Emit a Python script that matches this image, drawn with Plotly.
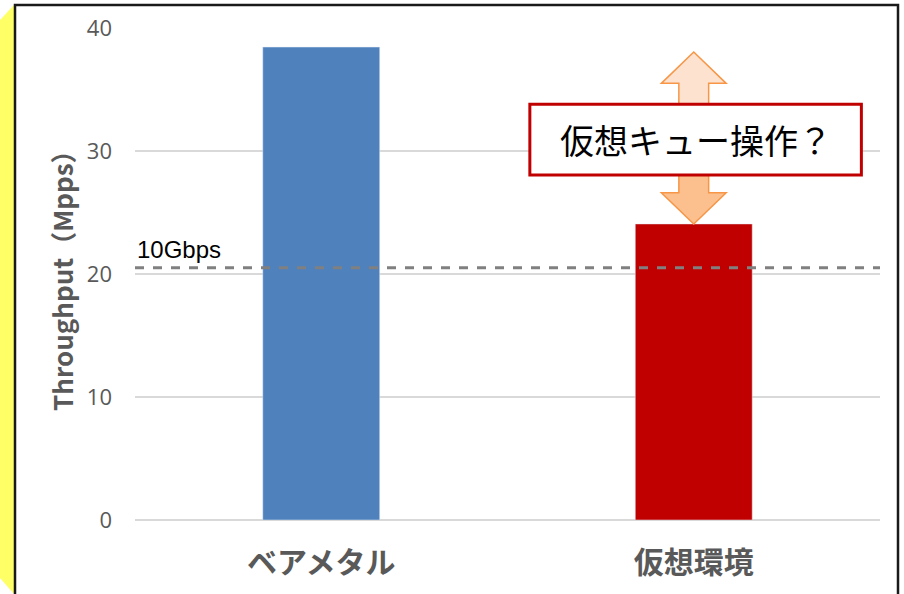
import plotly.graph_objects as go

categories = ["ベアメタル", "仮想環境"]
throughput = [38.45, 24.07]
bar_colors = ["#4f81bd", "#c00000"]
line_10g = 20.5
line_label = "10Gbps"
callout_text = "仮想キュー操作？"
y_ticks = [0, 10, 20, 30, 40]

L, R, T, B = 135, 24, 28, 74
W, H = 904, 594
pw, ph = W - L - R, H - T - B

def px(x):
    return (x - L) / pw

def py(y):
    return (H - B - y) / ph

fig = go.Figure()
fig.add_trace(go.Bar(x=[0, 1], y=throughput, marker_color=bar_colors, width=0.314,
                     hoverinfo="skip"))

shapes = []
# yellow side tab
shapes.append(dict(type="path", xref="paper", yref="paper",
                   path=f"M {px(0)} {py(20)} L {px(14)} {py(5)} L {px(14)} {py(594)} L {px(0)} {py(578)} Z",
                   fillcolor="#ffff66", line=dict(width=0), layer="below"))
# black border
shapes.append(dict(type="rect", xref="paper", yref="paper",
                   x0=px(15), x1=px(898), y0=py(640), y1=py(5),
                   line=dict(color="#1a1a1a", width=2.5), fillcolor="rgba(0,0,0,0)", layer="below"))
# dashed 10Gbps line
shapes.append(dict(type="line", xref="paper", yref="y", x0=0, x1=1, y0=line_10g, y1=line_10g,
                   line=dict(color="#808080", width=3, dash="dash")))
# double arrow (upper half lighter, lower half deeper, like the gradient)
cx = 1
sw, hw = 0.04, 0.087
top_tip, top_base = 38.05, 35.5
bot_base, bot_tip = 26.6, throughput[1]
mid = 31.0
up_path = (f"M {cx} {top_tip} L {cx+hw} {top_base} L {cx+sw} {top_base} L {cx+sw} {mid} "
           f"L {cx-sw} {mid} L {cx-sw} {top_base} L {cx-hw} {top_base} Z")
down_path = (f"M {cx-sw} {mid} L {cx+sw} {mid} L {cx+sw} {bot_base} L {cx+hw} {bot_base} "
             f"L {cx} {bot_tip} L {cx-hw} {bot_base} L {cx-sw} {bot_base} Z")
shapes.append(dict(type="path", xref="x", yref="y", path=up_path,
                   fillcolor="#fde3cf", line=dict(color="#f79646", width=1.5)))
shapes.append(dict(type="path", xref="x", yref="y", path=down_path,
                   fillcolor="#fbc08e", line=dict(color="#f79646", width=1.5)))
# callout box
shapes.append(dict(type="rect", xref="x", yref="y", x0=0.56, x1=1.45, y0=28.05, y1=33.8,
                   fillcolor="white", line=dict(color="#c00000", width=3)))

annotations = [
    dict(x=1.005, y=30.95, xref="x", yref="y", text=callout_text, showarrow=False,
         font=dict(family="Noto Sans CJK JP", size=34, color="#000000")),
    dict(x=0, y=line_10g, xref="paper", yref="y", text=line_label, showarrow=False,
         xanchor="left", yanchor="bottom", yshift=3,
         font=dict(family="Liberation Sans", size=24, color="#000000")),
    dict(x=px(61), y=0.5, xref="paper", yref="paper", text="<b>Throughput（Mpps）</b>",
         showarrow=False, textangle=-90, xanchor="center", yanchor="middle",
         font=dict(family="Noto Sans CJK JP", size=26, color="#595959")),
]

fig.update_layout(
    width=W, height=H, margin=dict(l=L, r=R, t=T, b=B),
    paper_bgcolor="white", plot_bgcolor="white", showlegend=False,
    shapes=shapes, annotations=annotations,
    xaxis=dict(range=[-0.5, 1.5], tickmode="array", tickvals=[0, 1],
               ticktext=[f"<b>{c}</b>" for c in categories],
               tickfont=dict(family="Noto Sans CJK JP", size=30, color="#595959"),
               showgrid=False, zeroline=False, showline=False, ticklabelstandoff=22),
    yaxis=dict(range=[0, 40], tickvals=y_ticks, showgrid=True, gridcolor="#d9d9d9",
               gridwidth=1.5, zeroline=True, zerolinecolor="#d9d9d9", zerolinewidth=1.5,
               tickfont=dict(family="Open Sans", size=22, color="#595959"),
               ticklabelstandoff=22),
)

fig.write_html("out.html")
